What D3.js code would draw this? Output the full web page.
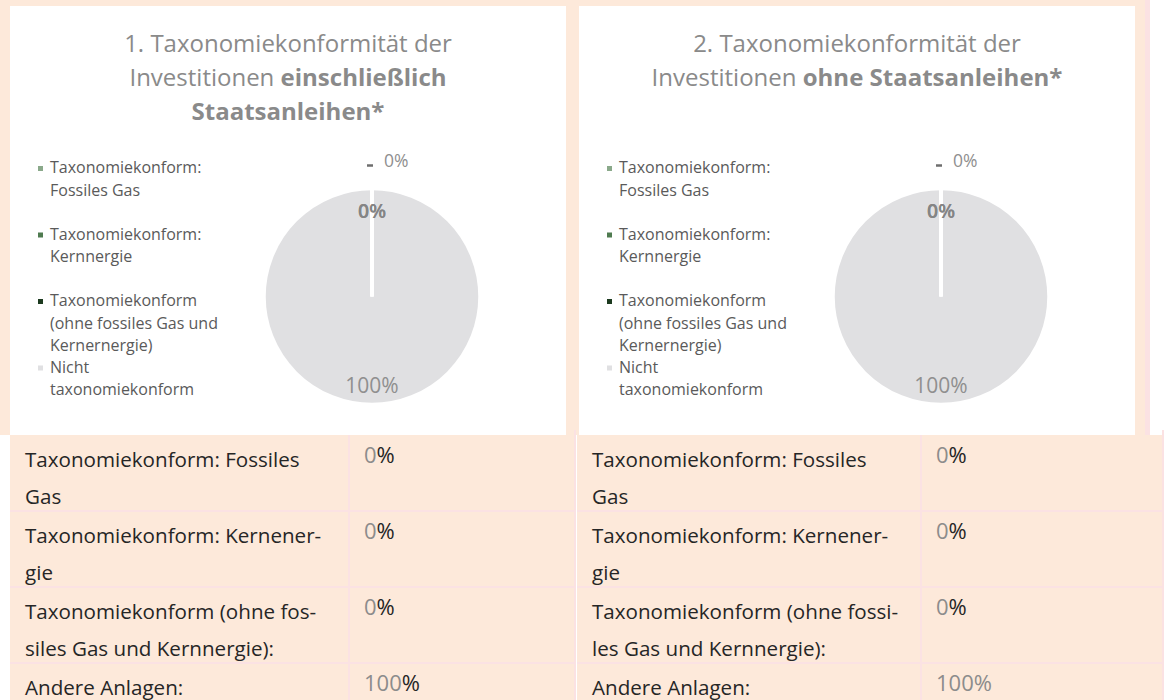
<!DOCTYPE html>
<html>
<head>
<meta charset="utf-8">
<script src="https://cdn.jsdelivr.net/npm/d3@7"></script>
<style>
  body { margin: 0; background: #fff; }
  svg { display: block; font-family: "Open Sans", sans-serif; }
</style>
</head>
<body>
<div id="chart-area"></div>
<script>
// categories of the two pies (legend text is wrapped like the original)
let categories = [
	"Taxonomiekonform:\nFossiles Gas",
	"Taxonomiekonform:\nKernnergie",
	"Taxonomiekonform\n(ohne fossiles Gas und\nKernernergie)",
	"Nicht\ntaxonomiekonform"
];

// pie values in %
let valuesInclusive = [0, 0, 0, 100];
let valuesExclusive = [0, 0, 0, 100];

// titles: [text, bold]
let titleInclusive = [
	[["1. Taxonomiekonformität der", false]],
	[["Investitionen ", false], ["einschließlich", true]],
	[["Staatsanleihen*", true]]
];
let titleExclusive = [
	[["2. Taxonomiekonformität der", false]],
	[["Investitionen ", false], ["ohne Staatsanleihen*", true]]
];

// tables below the pies
let tableLabelsLeft = [
	"Taxonomiekonform: Fossiles\nGas",
	"Taxonomiekonform: Kernener-\ngie",
	"Taxonomiekonform (ohne fos-\nsiles Gas und Kernnergie):",
	"Andere Anlagen:"
];
let tableLabelsRight = [
	"Taxonomiekonform: Fossiles\nGas",
	"Taxonomiekonform: Kernener-\ngie",
	"Taxonomiekonform (ohne fossi-\nles Gas und Kernnergie):",
	"Andere Anlagen:"
];
let tableValuesLeft = [0, 0, 0, 100];
let tableValuesRight = [0, 0, 0, 100];

// colours
let sliceColors = ["#8aa98a", "#4f7b50", "#1c3a1f", "#e0e0e2"];
let peach = "#fde9da";
let pink = "#fbe2e3";

let width = 1171, height = 700;

let svg = d3.select("#chart-area").append("svg")
	.attr("width", width)
	.attr("height", height);

// backdrop
svg.append("rect").attr("x", 0).attr("y", 0).attr("width", 1150).attr("height", 435).attr("fill", peach);
svg.append("rect").attr("x", 1145).attr("y", 0).attr("width", 5).attr("height", 435).attr("fill", pink);

let panels = [
	{x: 10, title: titleInclusive, values: valuesInclusive},
	{x: 579, title: titleExclusive, values: valuesExclusive}
];

let pie = d3.pie().sort(null).value(d => d);
let radius = 108;
let arc = d3.arc().innerRadius(0).outerRadius(radius);
let labelArc = d3.arc().innerRadius(radius * 0.79).outerRadius(radius * 0.79);
let legendY = d3.scaleLinear().domain([0, 3]).range([173, 372.5]);

panels.forEach(p => {
	let g = svg.append("g").attr("transform", "translate(" + p.x + ",6)");

	g.append("rect")
		.attr("width", 556)
		.attr("height", 429)
		.attr("fill", "#fff");

	// title
	let title = g.append("text")
		.attr("text-anchor", "middle")
		.attr("fill", "#8a8a8a")
		.attr("font-size", 24);
	p.title.forEach((line, i) => {
		line.forEach((part, j) => {
			let t = title.append("tspan").text(part[0])
				.attr("font-weight", part[1] ? 700 : 400);
			if (j === 0) t.attr("x", 278).attr("y", 46 + i * 34);
		});
	});

	// legend
	let legend = g.selectAll(".legend")
		.data(categories)
		.enter().append("g")
		.attr("class", "legend")
		.attr("transform", (d, i) => "translate(0," + legendY(i) + ")");

	legend.append("rect")
		.attr("x", 28)
		.attr("y", -13)
		.attr("width", 5)
		.attr("height", 5)
		.attr("fill", (d, i) => sliceColors[i]);

	legend.append("text")
		.attr("fill", "#5a5a5a")
		.attr("font-size", 16)
		.selectAll("tspan")
		.data(d => d.split("\n"))
		.enter().append("tspan")
		.attr("x", 40)
		.attr("y", (d, i) => i * 22.5 - 6)
		.text(d => d);

	// pie
	let pg = g.append("g").attr("transform", "translate(362,290.5)");
	let arcs = pie(p.values);

	// draw the big slice first so the zero slices' edges stay visible on top
	pg.selectAll("path")
		.data(arcs.slice().reverse())
		.enter().append("path")
		.attr("d", arc)
		.attr("fill", d => sliceColors[d.index])
		.attr("stroke", "#fff")
		.attr("stroke-width", 3.5);

	// labels
	arcs.forEach((d, i) => {
		let c = labelArc.centroid(d);
		let label = d3.format(".0%")(d.value / 100);
		if (i === 0) {
			// outside label with a short leader
			pg.append("line")
				.attr("x1", -5).attr("x2", 1)
				.attr("y1", -radius - 23).attr("y2", -radius - 23)
				.attr("stroke", "#6e6e6e").attr("stroke-width", 2.5);
			pg.append("text")
				.attr("x", 12).attr("y", -radius - 22)
				.attr("fill", "#8f8f8f")
				.attr("font-size", 17.5)
				.text(label);
		} else if (d.value === 0) {
			pg.append("text")
				.attr("x", c[0]).attr("y", c[1] + 7)
				.attr("text-anchor", "middle")
				.attr("fill", "#858585")
				.attr("font-size", 19.5)
				.attr("font-weight", 600)
				.text(label);
		} else {
			pg.append("text")
				.attr("x", c[0]).attr("y", c[1] + 11)
				.attr("text-anchor", "middle")
				.attr("fill", "#8f8f8f")
				.attr("font-size", 21)
				.text(label);
		}
	});
});

// tables
let rowY = d3.scaleBand().domain(d3.range(4)).range([435, 739]).paddingInner(0);

let tables = [
	{x: 10, w: 565, split: 339, labels: tableLabelsLeft, values: tableValuesLeft, lastGrey: false},
	{x: 577, w: 586, split: 344, labels: tableLabelsRight, values: tableValuesRight, lastGrey: true}
];

tables.forEach(t => {
	let g = svg.append("g").attr("transform", "translate(" + t.x + ",0)");

	g.append("rect")
		.attr("y", 435)
		.attr("width", t.w)
		.attr("height", height - 435)
		.attr("fill", peach);

	// grid
	g.append("line")
		.attr("x1", t.split).attr("x2", t.split)
		.attr("y1", 435).attr("y2", height)
		.attr("stroke", pink).attr("stroke-width", 2);
	g.selectAll(".hline")
		.data(d3.range(1, 4))
		.enter().append("line")
		.attr("class", "hline")
		.attr("x1", 0).attr("x2", t.w)
		.attr("y1", d => rowY(d)).attr("y2", d => rowY(d))
		.attr("stroke", pink).attr("stroke-width", 2);
	g.append("line")
		.attr("x1", t.w).attr("x2", t.w)
		.attr("y1", 430).attr("y2", height)
		.attr("stroke", pink).attr("stroke-width", 2);

	let rows = g.selectAll(".row")
		.data(t.labels)
		.enter().append("g")
		.attr("class", "row")
		.attr("transform", (d, i) => "translate(0," + rowY(i) + ")");

	rows.append("text")
		.attr("fill", "#262626")
		.attr("font-size", 20.6)
		.selectAll("tspan")
		.data(d => d.split("\n"))
		.enter().append("tspan")
		.attr("x", 15)
		.attr("y", (d, i) => 32 + i * 37)
		.text(d => d);

	let val = rows.append("text")
		.attr("x", t.split + 15)
		.attr("y", 28)
		.attr("font-size", 22);
	val.append("tspan")
		.attr("fill", "#8c8c8c")
		.text((d, i) => t.values[i]);
	val.append("tspan")
		.attr("fill", (d, i) => (t.lastGrey && i === 3) ? "#8c8c8c" : "#262626")
		.text("%");
});
</script>
</body>
</html>
